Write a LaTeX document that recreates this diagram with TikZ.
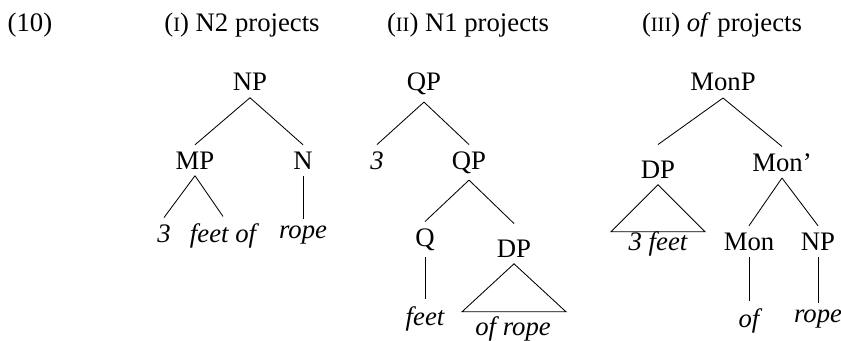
\documentclass[tikz,border=0pt]{standalone}
\usepackage{fontspec}
\setmainfont{Liberation Serif}
\usepackage{tikz}
\newcommand{\smallI}[1]{{\fontsize{14.5}{16}\selectfont #1}}

\begin{document}
\begin{tikzpicture}[x=0.025cm, y=-0.025cm, line width=0.6pt,
        font=\fontsize{19}{22}\selectfont,
        cat/.style={anchor=base, inner xsep=1pt, inner ysep=4.5pt},
        leaf/.style={cat, font=\fontsize{19}{22}\selectfont\itshape},
        heading/.style={anchor=base, inner sep=0pt}]
        \useasboundingbox (0,0) rectangle (841,341);
        % example number and headings
        \node [heading] (ex) at (30,32) {(10)};
        \node [heading] (head1) at (242,32) {(\smallI{I}) N2 projects};
        \node [heading] (head2) at (468,32) {(\smallI{II}) N1 projects};
        \node [heading] (head3) at (722,32) {(\smallI{III}) \textit{of} projects};
        % (I) N2 projects
        \node [cat] (np1) at (250,91) {NP};
        \node [cat] (mp1) at (195,169) {MP};
        \node [cat] (n1) at (303,169) {N};
        \node [leaf] (three1) at (164,242) {3};
        \node [leaf] (feetof1) at (223,242) {feet of};
        \node [leaf] (rope1) at (303,238) {rope};
        \draw [-] (np1.south) -- (mp1.north);
        \draw [-] (np1.south) -- (n1.north);
        \draw [-] (mp1.south) -- (three1.north);
        \draw [-] (mp1.south) -- (feetof1.north);
        \draw [-] (n1.south) -- (rope1.north);
        % (II) N1 projects
        \node [cat] (qp2) at (424,91) {QP};
        \node [leaf] (three2) at (377,169) {3};
        \node [cat] (qpb2) at (469,169) {QP};
        \node [cat] (q2) at (425,246) {Q};
        \node [cat, text height=19pt] (dp2) at (514,257) {DP};
        \node [leaf] (feet2) at (425,325) {feet};
        \node [leaf] (ofrope2) at (513,335) {of rope};
        \draw [-] (qp2.south) -- (three2.north);
        \draw [-] (qp2.south) -- (qpb2.north);
        \draw [-] (qpb2.south) -- (q2.north);
        \draw [-] (qpb2.south) -- (dp2.north);
        \draw [-] (q2.south) -- (feet2.north);
        \draw [-] (dp2.south) -- ++(-52,48) -- ++(104,0) -- cycle;
        % (III) of projects
        \node [cat] (monp3) at (723,91) {MonP};
        \node [cat, text height=19pt] (dp3) at (658,178) {DP};
        \node [cat] (monbar3) at (782,171) {Mon'};
        \node [cat] (mon3) at (749,250) {Mon};
        \node [cat] (np3) at (818,250) {NP};
        \node [leaf] (threefeet3) at (658,250) {3 feet};
        \node [leaf] (of3) at (749,327) {of};
        \node [leaf] (rope3) at (818,322) {rope};
        \draw [-] (monp3.south) -- (dp3.north);
        \draw [-] (monp3.south) -- (monbar3.north);
        \draw [-] (monbar3.south) -- (mon3.north);
        \draw [-] (monbar3.south) -- (np3.north);
        \draw [-] (mon3.south) -- (of3.north);
        \draw [-] (np3.south) -- (rope3.north);
        \draw [-] (dp3.south) -- ++(-47,47) -- ++(94,0) -- cycle;
    \end{tikzpicture}
\end{document}
